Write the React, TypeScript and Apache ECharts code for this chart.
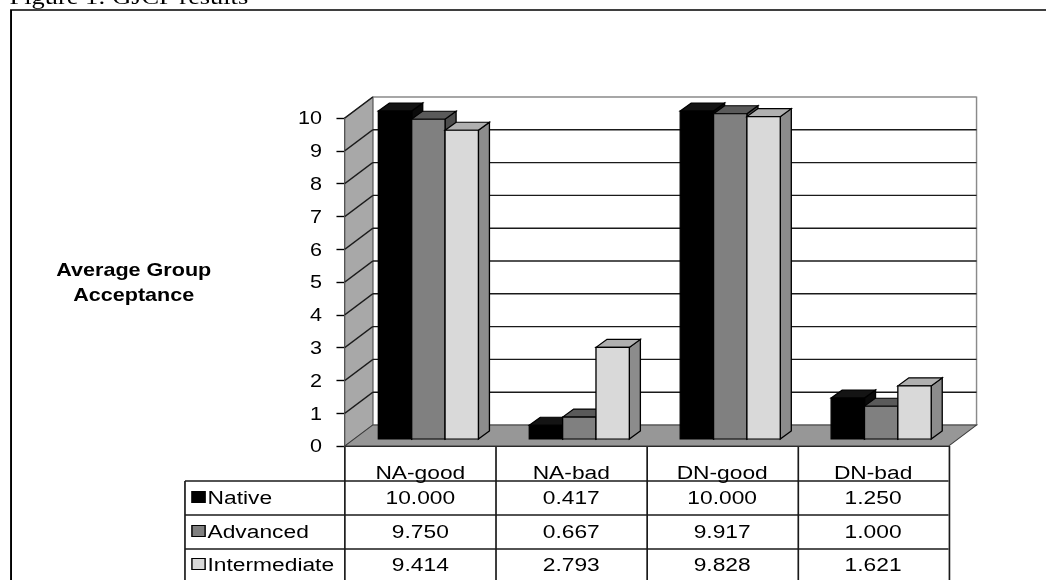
import React, { useEffect, useRef } from "react";
import * as echarts from "echarts";

// ---- data ----
const categories = ["NA-good", "NA-bad", "DN-good", "DN-bad"];
const seriesNames = ["Native", "Advanced", "Intermediate"];
const nativeValues = [10.0, 0.417, 10.0, 1.25];
const advancedValues = [9.75, 0.667, 9.917, 1.0];
const intermediateValues = [9.414, 2.793, 9.828, 1.621];
const yMin = 0;
const yMax = 10;
const yStep = 1;
const titleText = "Figure 1: GJCP results";
const axisTitle = "Average Group\nAcceptance";

const seriesValues = [nativeValues, advancedValues, intermediateValues];

// ---- layout (drawing space, stretched horizontally by STRETCH on screen) ----
const CHART_W = 872;
const CHART_H = 580;
const STRETCH = 1046 / CHART_W;
const GRID = { left: 287.5, top: 118, width: 503.3, height: 328 };
const BACK_OFFSET = [23.3, -21];
const BAR_PLANE = [6.7, -7];
const BAR_DEPTH = [9.2, -8];
const BAR_FRACTION = 0.221;
const TABLE_LEFT = 154.2;
const TABLE_RIGHT = GRID.left + GRID.width;
const ROW_LINES = [481, 515, 549];
const ROW_CENTERS = [497, 531, 564];
const FONT = "'Liberation Sans', Arial, sans-serif";

const faces = [
  { front: "#000000", top: "#141414", side: "#0a0a0a" },
  { front: "#808080", top: "#5a5a5a", side: "#4d4d4d" },
  { front: "#d9d9d9", top: "#b0b0b0", side: "#8c8c8c" },
];

function wallsRender(_params: any, api: any) {
  const band = api.size([1, 0])[0];
  const xL = api.coord([0, 0])[0] - band / 2;
  const xR = api.coord([categories.length - 1, 0])[0] + band / 2;
  const y0 = api.coord([0, yMin])[1];
  const yTop = api.coord([0, yMax])[1];
  const [bx, by] = BACK_OFFSET;
  const children: any[] = [];
  children.push({
    type: "rect",
    shape: { x: xL + bx, y: yTop + by, width: xR - xL, height: y0 - yTop },
    style: { fill: "#ffffff", stroke: "#8a8a8a", lineWidth: 1.2 },
  });
  children.push({
    type: "polygon",
    shape: { points: [[xL, y0], [xL + bx, y0 + by], [xL + bx, yTop + by], [xL, yTop]] },
    style: { fill: "#a8a8a8", stroke: "#6a6a6a", lineWidth: 1 },
  });
  for (let v = yMin + yStep; v <= yMax; v += yStep) {
    const yv = api.coord([0, v])[1];
    children.push({
      type: "line",
      shape: { x1: xL + bx, y1: yv + by, x2: xR + bx, y2: yv + by },
      style: { stroke: v === yMax ? "#8a8a8a" : "#1a1a1a", lineWidth: v === yMax ? 1.2 : 1.4 },
    });
    children.push({
      type: "line",
      shape: { x1: xL, y1: yv, x2: xL + bx, y2: yv + by },
      style: { stroke: "#1a1a1a", lineWidth: 1.3 },
    });
  }
  children.push({
    type: "polygon",
    shape: { points: [[xL, y0], [xR, y0], [xR + bx, y0 + by], [xL + bx, y0 + by]] },
    style: { fill: "#979797", stroke: "#3a3a3a", lineWidth: 1 },
  });
  return { type: "group", children };
}

function makeBarRender(s: number) {
  return (_params: any, api: any) => {
    const c = api.value(0);
    const v = api.value(1);
    const [cx, y0] = api.coord([c, 0]);
    const yv = api.coord([c, v])[1];
    const band = api.size([1, 0])[0];
    const bw = band * BAR_FRACTION;
    const x0 = cx + BAR_PLANE[0] - 1.5 * bw + s * bw;
    const x1 = x0 + bw;
    const yb = y0 + BAR_PLANE[1];
    const yt = yv + BAR_PLANE[1];
    const [dx, dy] = BAR_DEPTH;
    const f = faces[s];
    const edge = { stroke: "#000000", lineWidth: 1.1 };
    return {
      type: "group",
      children: [
        {
          type: "polygon",
          shape: { points: [[x1, yb], [x1 + dx, yb + dy], [x1 + dx, yt + dy], [x1, yt]] },
          style: { fill: f.side, ...edge },
        },
        {
          type: "polygon",
          shape: { points: [[x0, yt], [x1, yt], [x1 + dx, yt + dy], [x0 + dx, yt + dy]] },
          style: { fill: f.top, ...edge },
        },
        {
          type: "rect",
          shape: { x: x0, y: yt, width: bw, height: yb - yt },
          style: { fill: f.front, ...edge },
        },
      ],
    };
  };
}

function tableRender(_params: any, api: any) {
  const c = api.value(0);
  const row = api.value(1);
  const val = api.value(2);
  const x = api.coord([c, 0])[0];
  return {
    type: "text",
    style: {
      x,
      y: ROW_CENTERS[row],
      text: Number(val).toFixed(3),
      fill: "#000000",
      font: `19px ${FONT}`,
      align: "center",
      verticalAlign: "middle",
    },
  };
}

export default function App() {
  const ref = useRef<HTMLDivElement>(null);

  useEffect(() => {
    if (!ref.current) return;
    const chart = echarts.init(ref.current, undefined, { renderer: "svg" });

    const tableData: number[][] = [];
    seriesValues.forEach((vals, s) => vals.forEach((v, c) => tableData.push([c, s, v])));

    const graphic: any[] = [
      {
        type: "rect",
        shape: { x: 9.2, y: 10, width: 1000, height: 800 },
        style: { fill: "none", stroke: "#000000", lineWidth: 1.6 },
        z: 0,
      },
      {
        type: "text",
        x: 8,
        y: -4,
        style: {
          text: titleText,
          font: "22px 'Liberation Serif', 'Times New Roman', serif",
          fill: "#000000",
          align: "left",
          verticalAlign: "middle",
        },
      },
      ...ROW_LINES.map((y) => ({
        type: "line",
        shape: { x1: TABLE_LEFT, y1: y, x2: TABLE_RIGHT, y2: y },
        style: { stroke: "#1a1a1a", lineWidth: 1.3 },
      })),
      {
        type: "line",
        shape: { x1: TABLE_LEFT, y1: ROW_LINES[0], x2: TABLE_LEFT, y2: CHART_H + 10 },
        style: { stroke: "#1a1a1a", lineWidth: 1.4 },
      },
      ...seriesNames.flatMap((name, s) => [
        {
          type: "rect",
          shape: { x: 160, y: ROW_CENTERS[s] - 5.5, width: 11, height: 11 },
          style: { fill: faces[s].front, stroke: "#000000", lineWidth: 1.2 },
        },
        {
          type: "text",
          style: {
            x: 173,
            y: ROW_CENTERS[s],
            text: name,
            font: `19px ${FONT}`,
            fill: "#000000",
            align: "left",
            verticalAlign: "middle",
          },
        },
      ]),
    ];

    chart.setOption({
      animation: false,
      grid: { ...GRID, containLabel: false },
      xAxis: {
        type: "category",
        data: categories,
        boundaryGap: true,
        axisLine: { show: true, lineStyle: { color: "#1a1a1a", width: 1.2 } },
        axisTick: {
          show: true,
          interval: 0,
          alignWithLabel: false,
          length: 150,
          lineStyle: { color: "#1a1a1a", width: 1.4 },
        },
        axisLabel: {
          interval: 0,
          margin: 17,
          color: "#000000",
          fontSize: 19,
          fontFamily: FONT,
        },
        splitLine: { show: false },
      },
      yAxis: {
        type: "value",
        min: yMin,
        max: yMax,
        interval: yStep,
        name: axisTitle,
        nameLocation: "middle",
        nameRotate: 0,
        nameGap: 176,
        nameTextStyle: {
          color: "#000000",
          fontSize: 18,
          fontWeight: "bold",
          fontFamily: FONT,
          lineHeight: 25,
          align: "center",
          verticalAlign: "middle",
        },
        axisLine: { show: true, lineStyle: { color: "#000000", width: 1.4 } },
        axisTick: { show: true, length: 7, lineStyle: { color: "#000000", width: 1.4 } },
        axisLabel: { margin: 19, color: "#000000", fontSize: 18, fontFamily: FONT },
        splitLine: { show: false },
      },
      graphic,
      series: [
        {
          type: "custom",
          name: "walls",
          renderItem: wallsRender,
          data: [[0, 0]],
          silent: true,
          z: 1,
        },
        ...seriesNames.map((name, s) => ({
          type: "custom",
          name,
          renderItem: makeBarRender(s),
          data: seriesValues[s].map((v, i) => [i, v]),
          z: 2,
        })),
        {
          type: "custom",
          name: "table",
          renderItem: tableRender,
          data: tableData,
          encode: { x: 0, y: 1 },
          z: 3,
        },
      ],
    });

    return () => chart.dispose();
  }, []);

  return (
    <div
      ref={ref}
      style={{
        position: "fixed",
        left: 0,
        top: 0,
        width: CHART_W,
        height: CHART_H,
        transform: `scaleX(${STRETCH})`,
        transformOrigin: "0 0",
      }}
    />
  );
}
